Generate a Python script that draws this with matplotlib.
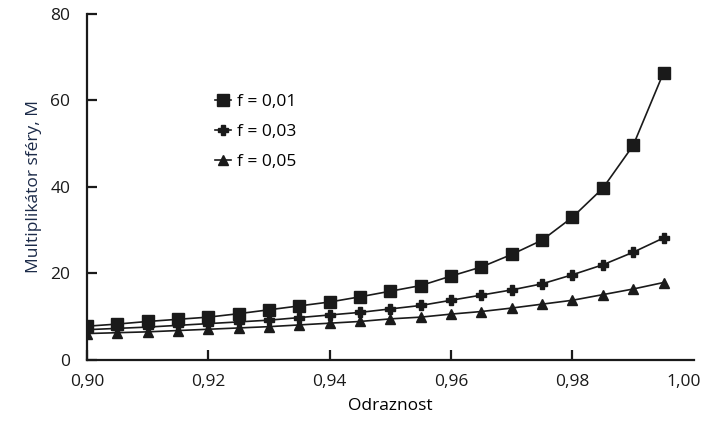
import matplotlib.pyplot as plt
from matplotlib.transforms import ScaledTranslation

plt.rcParams['font.family'] = ['Open Sans', 'DejaVu Sans']

# Odraznost steny sfery
reflectance = [0.900, 0.905, 0.910, 0.915, 0.920, 0.925, 0.930, 0.935, 0.940, 0.945,
               0.950, 0.955, 0.960, 0.965, 0.970, 0.975, 0.980, 0.985, 0.990, 0.995]

# Multiplikator sfery pro ruzne podily otvoru f
m_f001 = [7.8, 8.3, 8.9, 9.4, 9.9, 10.7, 11.6, 12.5, 13.4, 14.6,
          15.9, 17.2, 19.4, 21.5, 24.4, 27.7, 33.0, 39.7, 49.6, 66.4]
m_f003 = [7.0, 7.3, 7.6, 8.0, 8.4, 8.8, 9.2, 9.8, 10.4, 11.0,
          11.8, 12.6, 13.8, 15.0, 16.2, 17.6, 19.7, 22.0, 24.9, 28.2]
m_f005 = [6.1, 6.3, 6.5, 6.8, 7.1, 7.4, 7.7, 8.1, 8.5, 8.9,
          9.5, 9.9, 10.6, 11.2, 12.0, 12.9, 13.8, 15.1, 16.4, 17.9]

labels = ['f = 0,01', 'f = 0,03', 'f = 0,05']

fig = plt.figure(figsize=(7.04, 4.21), dpi=100)
ax = fig.add_axes([0.1236, 0.145, 0.862, 0.822])

ax.plot(reflectance, m_f001, color='#1a1a1a', lw=1.2, marker='s', ms=8, label=labels[0])
ax.plot(reflectance, m_f003, color='#1a1a1a', lw=1.2, marker='P', ms=6.5, label=labels[1])
ax.plot(reflectance, m_f005, color='#1a1a1a', lw=1.2, marker='^', ms=7, label=labels[2])

ax.set_xlim(0.90, 1.00)
ax.set_ylim(0, 80)
ax.set_xticks([0.90, 0.92, 0.94, 0.96, 0.98, 1.00])
ax.set_xticklabels(['0,90', '0,92', '0,94', '0,96', '0,98', '1,00'])
ax.set_yticks([0, 20, 40, 60, 80])

for s in ['top', 'right']:
    ax.spines[s].set_visible(False)
for s in ['left', 'bottom']:
    ax.spines[s].set_linewidth(1.6)
    ax.spines[s].set_color('#1a1a1a')

ax.tick_params(direction='in', length=7, width=1.6, labelsize=12.5, colors='#1a1a1a')
ax.tick_params(axis='x', pad=10)
ax.tick_params(axis='y', pad=12)
# no tick mark at the end of the x axis, and pull its label in a bit
last = ax.xaxis.get_major_ticks()[-1]
last.tick1line.set_visible(False)
last.label1.set_transform(last.label1.get_transform() +
                          ScaledTranslation(-7 / 72, 0, fig.dpi_scale_trans))

ax.set_xlabel('Odraznost', fontsize=12.5, labelpad=6)
ax.set_ylabel('Multiplikátor sféry, M', fontsize=12.5, color='#1b2a48', labelpad=6)

ax.legend(loc='upper left', bbox_to_anchor=(0.185, 0.815), frameon=False, fontsize=12.5,
          handlelength=0.9, handletextpad=0.4, labelspacing=0.8)

fig.savefig('out.png', dpi=100)
